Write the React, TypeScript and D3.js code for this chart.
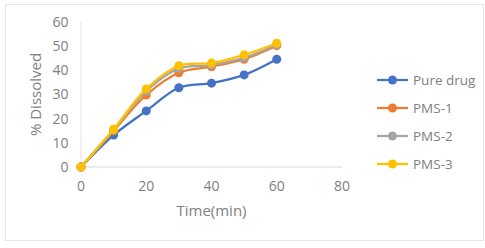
import React from "react";
import * as d3 from "d3";

const times = [0, 10, 20, 30, 40, 50, 60];
const seriesNames = ["Pure drug", "PMS-1", "PMS-2", "PMS-3"];
const pureDrug = [0, 13.2, 23.2, 32.8, 34.7, 38.1, 44.6];
const pms1 = [0, 15.0, 29.8, 39.0, 41.5, 44.6, 50.2];
const pms2 = [0, 15.4, 31.4, 40.8, 42.2, 45.2, 50.6];
const pms3 = [0, 15.6, 32.3, 41.9, 43.0, 46.4, 51.2];
const xTicks = [0, 20, 40, 60, 80];
const yTicks = [0, 10, 20, 30, 40, 50, 60];
const colors = ["#4472C4", "#ED7D31", "#A5A5A5", "#FFC000"];

const allSeries = [pureDrug, pms1, pms2, pms3];

export default function App() {
  const W = 485, H = 248;
  const x = d3.scaleLinear().domain([0, 80]).range([81, 342]);
  const y = d3.scaleLinear().domain([0, 60]).range([167, 22]);
  const line = d3
    .line<[number, number]>()
    .x((d) => x(d[0]))
    .y((d) => y(d[1]))
    .curve(d3.curveCatmullRom.alpha(0.5));
  const font = "'Open Sans', 'Liberation Sans', sans-serif";
  const textColor = "#808080";
  return (
    <svg
      width={W}
      height={H}
      style={{ position: "absolute", left: 0, top: 0, background: "#fff" }}
      fontFamily={font}
    >
      <rect x={5.5} y={4.5} width={478} height={236} fill="#fff" stroke="#e6e6e6" strokeWidth={1} />
      <line x1={x(0)} x2={x(0)} y1={y(60)} y2={y(0)} stroke="#e3e3e3" strokeWidth={1} />
      <line x1={x(0)} x2={x(80)} y1={y(0)} y2={y(0)} stroke="#d9d9d9" strokeWidth={1} />
      {yTicks.map((t) => (
        <text key={"y" + t} x={68.5} y={y(t)} dy="0.35em" textAnchor="end" fontSize={14} fill={textColor}>
          {t}
        </text>
      ))}
      {xTicks.map((t) => (
        <text key={"x" + t} x={x(t)} y={186} dy="0.35em" textAnchor="middle" fontSize={14} fill={textColor}>
          {t}
        </text>
      ))}
      <text x={x(40)} y={211} dy="0.35em" textAnchor="middle" fontSize={15} fill={textColor}>
        Time(min)
      </text>
      <text
        transform={`translate(36,${(y(0) + y(60)) / 2}) rotate(-90)`}
        dy="0.35em"
        textAnchor="middle"
        fontSize={15}
        fill={textColor}
      >
        % Dissolved
      </text>
      {allSeries.map((s, i) => {
        const pts: [number, number][] = times.map((t, j) => [t, s[j]]);
        return (
          <g key={"s" + i}>
            <path d={line(pts) || ""} fill="none" stroke={colors[i]} strokeWidth={2.25} />
            {pts.map((p, j) => (
              <circle key={j} cx={x(p[0])} cy={y(p[1])} r={4.5} fill={colors[i]} />
            ))}
          </g>
        );
      })}
      {seriesNames.map((n, i) => {
        const ly = 80 + i * 28;
        return (
          <g key={"l" + i}>
            <line x1={377} x2={408} y1={ly} y2={ly} stroke={colors[i]} strokeWidth={2.25} />
            <circle cx={392.5} cy={ly} r={4.5} fill={colors[i]} />
            <text x={413} y={ly} dy="0.35em" fontSize={13.5} fill={textColor}>
              {n}
            </text>
          </g>
        );
      })}
    </svg>
  );
}
